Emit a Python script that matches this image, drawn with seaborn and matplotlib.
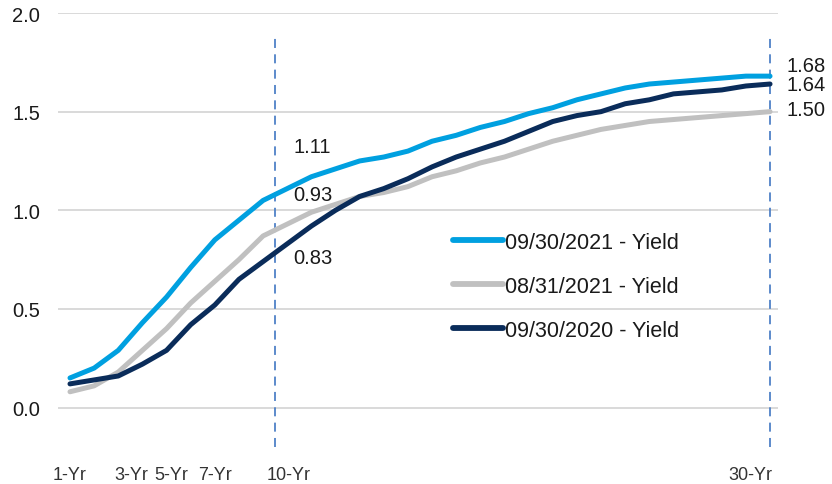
import matplotlib
matplotlib.use("Agg")
import matplotlib.pyplot as plt
import seaborn as sns
import pandas as pd

# ---------------- data ----------------
tenors = list(range(1, 31))
series_names = ["09/30/2021 - Yield", "08/31/2021 - Yield", "09/30/2020 - Yield"]
yield_2021_09 = [0.15, 0.20, 0.29, 0.43, 0.56, 0.71, 0.85, 0.95, 1.05, 1.11,
                 1.17, 1.21, 1.25, 1.27, 1.30, 1.35, 1.38, 1.42, 1.45, 1.49,
                 1.52, 1.56, 1.59, 1.62, 1.64, 1.65, 1.66, 1.67, 1.68, 1.68]
yield_2021_08 = [0.08, 0.11, 0.18, 0.29, 0.40, 0.53, 0.64, 0.75, 0.87, 0.93,
                 0.99, 1.03, 1.07, 1.09, 1.12, 1.17, 1.20, 1.24, 1.27, 1.31,
                 1.35, 1.38, 1.41, 1.43, 1.45, 1.46, 1.47, 1.48, 1.49, 1.50]
yield_2020_09 = [0.12, 0.14, 0.16, 0.22, 0.29, 0.42, 0.52, 0.65, 0.74, 0.83,
                 0.92, 1.00, 1.07, 1.11, 1.16, 1.22, 1.27, 1.31, 1.35, 1.40,
                 1.45, 1.48, 1.50, 1.54, 1.56, 1.59, 1.60, 1.61, 1.63, 1.64]
tick_labels = ["1-Yr", "3-Yr", "5-Yr", "7-Yr", "10-Yr", "30-Yr"]
y_ticks = [0.0, 0.5, 1.0, 1.5, 2.0]

# ---------------- style ----------------
colors = ["#00A0E0", "#C0C0C0", "#0A2C5A"]
tick_pos = [1, 3.55, 5.2, 7, 10.05, 29.2]   # label placement as in the reference
vline_pos = [9.5, 30]
label_offsets_10 = [(4.3, 30), (4.3, 21), (4.3, -9.5)]
label_offsets_30 = [(12, 8), (12, 1.5), (12, 0)]

rows = []
for name, vals in zip(series_names, [yield_2021_09, yield_2021_08, yield_2020_09]):
    for t, v in zip(tenors, vals):
        rows.append({"Tenor": t, "Yield": v, "Series": name})
df = pd.DataFrame(rows)

sns.set_style("white")
plt.rcParams["font.family"] = ["Liberation Sans", "DejaVu Sans"]

fig = plt.figure(figsize=(8.32, 4.85), dpi=100)
ax = fig.add_axes([58 / 832, 1 - 448 / 485, 720 / 832, 434 / 485])

ax.set_ylim(-0.2, 2.0)
ax.set_xlim(0.503, 30.33)
for yv in y_ticks:
    ax.axhline(yv, color="#D9D9D9", lw=1.4, zorder=0)

sns.lineplot(data=df, x="Tenor", y="Yield", hue="Series", palette=colors,
             hue_order=series_names, lw=3.6, ax=ax, legend=True, zorder=3)

for xv in vline_pos:
    ax.vlines(xv, -0.2, 1.88, colors="#4F81C7", linestyles=(0, (5, 3.5)), lw=1.3, zorder=2)

for s in ax.spines.values():
    s.set_visible(False)

ax.set_yticks(y_ticks)
ax.set_yticklabels([f"{v:.1f}" for v in y_ticks], fontsize=14.5, color="#1A1A1A")
ax.tick_params(axis="y", length=0, pad=13)
ax.set_xticks(tick_pos)
ax.set_xticklabels(tick_labels, fontsize=13, color="#333333",
                   family=["Liberation Sans Narrow", "Liberation Sans"])
ax.tick_params(axis="x", length=0, pad=13.5)
ax.set_xlabel("")
ax.set_ylabel("")

all_vals = [yield_2021_09, yield_2021_08, yield_2020_09]
for vals, off in zip(all_vals, label_offsets_10):
    v = vals[tenors.index(10)]
    ax.annotate(f"{v:.2f}", xy=(10, v), xytext=off, textcoords="offset points",
                ha="left", va="center", fontsize=14.5, color="#1A1A1A")
for vals, off in zip(all_vals, label_offsets_30):
    v = vals[tenors.index(30)]
    ax.annotate(f"{v:.2f}", xy=(30, v), xytext=off, textcoords="offset points",
                ha="left", va="center", fontsize=14.5, color="#1A1A1A",
                annotation_clip=False)

leg = ax.legend(loc="upper left", bbox_to_anchor=((453 - 58) / 720, (448 - 233) / 434),
                frameon=False, fontsize=15.5, handlelength=2.3, handletextpad=0.12,
                labelspacing=1.06, borderaxespad=0, borderpad=0)
for line in leg.get_lines():
    line.set_linewidth(4.2)
for t in leg.get_texts():
    t.set_color("#1A1A1A")

fig.savefig("out.png", dpi=100)
